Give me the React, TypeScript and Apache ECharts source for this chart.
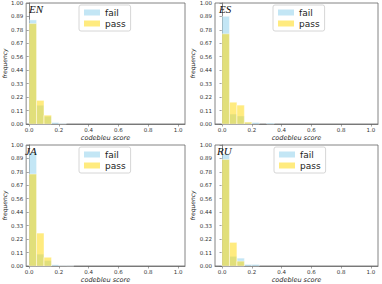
import React, { useEffect, useRef } from "react";
import * as echarts from "echarts";

const panels = ["EN", "ES", "JA", "RU"];
const binStarts = [0, 0.05, 0.1, 0.15, 0.2, 0.25, 0.3, 0.35];
const binWidth = 0.05;
const failEN = [0.86, 0.155, 0.064, 0.012, 0.004, 0, 0, 0];
const passEN = [0.83, 0.195, 0.073, 0, 0, 0, 0, 0];
const failES = [0.89, 0.082, 0.066, 0.012, 0.012, 0, 0.008, 0];
const passES = [0.745, 0.18, 0.156, 0.016, 0, 0, 0, 0];
const failJA = [0.935, 0.098, 0.045, 0.01, 0.003, 0.002, 0, 0];
const passJA = [0.76, 0.272, 0.072, 0, 0, 0, 0, 0];
const failRU = [0.927, 0.08, 0.065, 0.013, 0.013, 0, 0, 0];
const passRU = [0.88, 0.195, 0.04, 0, 0, 0, 0, 0];
const xTicks = [0, 0.2, 0.4, 0.6, 0.8, 1.0];
const yTicks = [0, 0.111, 0.222, 0.333, 0.444, 0.556, 0.667, 0.778, 0.889, 1.0];

const failData = [failEN, failES, failJA, failRU];
const passData = [passEN, passES, passJA, passRU];

const grids = [
  { left: 26, top: 2, width: 159, height: 122 },
  { left: 215, top: 2, width: 163, height: 122 },
  { left: 26, top: 145, width: 159, height: 123 },
  { left: 215, top: 145, width: 163, height: 123 },
];
const xMins = [-0.02, -0.047, -0.02, -0.047];
const legendPos = [
  { left: 79, top: 5 },
  { left: 273, top: 5 },
  { left: 79, top: 147 },
  { left: 274, top: 147 },
];
const titlePos = [
  { x: 29, y: 3 },
  { x: 219, y: 3 },
  { x: 25, y: 145 },
  { x: 217, y: 145 },
];

const FAIL = "rgba(135,206,235,0.5)";
const PASS = "rgba(255,215,0,0.5)";

function toTriples(vals: number[]) {
  const out: number[][] = [];
  vals.forEach((v, i) => {
    if (v > 0) out.push([binStarts[i], binStarts[i] + binWidth, v]);
  });
  return out;
}

const renderItem = (params: any, api: any) => {
  const x0 = api.value(0);
  const x1 = api.value(1);
  const y = api.value(2);
  const p0 = api.coord([x0, y]);
  const p1 = api.coord([x1, 0]);
  return {
    type: "rect",
    shape: { x: p0[0], y: p0[1], width: p1[0] - p0[0], height: p1[1] - p0[1] },
    style: { fill: api.visual("color"), stroke: "rgba(255,255,255,0.7)", lineWidth: 0.6 },
  };
};

export default function App() {
  const ref = useRef<HTMLDivElement>(null);
  useEffect(() => {
    if (!ref.current) return;
    const chart = echarts.init(ref.current, null, { renderer: "svg" });
    const tickLabel = { fontSize: 5.5, color: "#333", fontFamily: "DejaVu Sans" };
    const option: any = {
      animation: false,
      grid: grids.map((g) => ({ ...g, show: true, borderColor: "#666", borderWidth: 0.8, backgroundColor: "transparent" })),
      xAxis: grids.map((g, i) => ({
        type: "value",
        gridIndex: i,
        min: xMins[i],
        max: 1.047,
        name: "codebleu score",
        nameLocation: "middle",
        nameGap: 10,
        nameTextStyle: { fontSize: 6.5, fontStyle: "italic", color: "#222", fontFamily: "DejaVu Sans" },
        axisLine: { show: true, lineStyle: { color: "#666", width: 0.8 } },
        axisTick: { show: true, length: 2.5, customValues: xTicks, lineStyle: { color: "#666", width: 0.6 } },
        axisLabel: { ...tickLabel, margin: 3, customValues: xTicks, formatter: (v: number) => v.toFixed(1) },
        splitLine: { show: false },
      })),
      yAxis: grids.map((g, i) => ({
        type: "value",
        gridIndex: i,
        min: 0,
        max: 1,
        name: "frequency",
        nameLocation: "middle",
        nameGap: 17,
        nameRotate: 90,
        nameTextStyle: { fontSize: 6, fontStyle: "italic", color: "#222", fontFamily: "DejaVu Sans" },
        axisLine: { show: true, lineStyle: { color: "#666", width: 0.8 } },
        axisTick: { show: true, length: 2.5, customValues: yTicks, lineStyle: { color: "#666", width: 0.6 } },
        axisLabel: { ...tickLabel, margin: 3, customValues: yTicks, formatter: (v: number) => v.toFixed(2) },
        splitLine: { show: false },
      })),
      legend: legendPos.map((p) => ({
        ...p,
        orient: "vertical",
        data: ["fail", "pass"],
        icon: "rect",
        itemWidth: 16,
        itemHeight: 6,
        itemGap: 2,
        padding: [3, 5, 3, 5],
        borderColor: "#ccc",
        borderWidth: 0.8,
        borderRadius: 2,
        backgroundColor: "rgba(255,255,255,0.8)",
        selectedMode: false,
        textStyle: { fontSize: 9, color: "#222", fontFamily: "DejaVu Sans", padding: [0, 0, 0, 0] },
      })),
      graphic: panels.map((name, i) => ({
        type: "text",
        x: titlePos[i].x,
        y: titlePos[i].y,
        style: { text: name, fontSize: 11, fontStyle: "italic", fontFamily: "Liberation Serif", fill: "#111" },
        z: 100,
      })),
      series: panels.flatMap((name, i) => [
        {
          type: "custom",
          name: "fail",
          xAxisIndex: i,
          yAxisIndex: i,
          itemStyle: { color: FAIL },
          encode: { x: [0, 1], y: 2 },
          renderItem,
          data: toTriples(failData[i]),
          z: 2,
        },
        {
          type: "custom",
          name: "pass",
          xAxisIndex: i,
          yAxisIndex: i,
          itemStyle: { color: PASS },
          encode: { x: [0, 1], y: 2 },
          renderItem,
          data: toTriples(passData[i]),
          z: 3,
        },
      ]),
    };
    chart.setOption(option);
    return () => chart.dispose();
  }, []);
  return <div ref={ref} style={{ width: 382, height: 284, position: "absolute", left: 0, top: 0, background: "#fff" }} />;
}
